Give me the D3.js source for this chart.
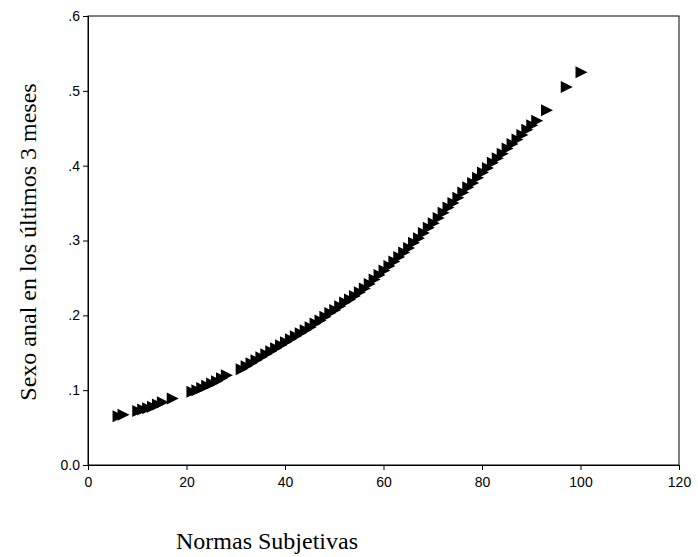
<!DOCTYPE html>
<html><head><meta charset="utf-8">
<script src="https://cdn.jsdelivr.net/npm/d3@7"></script>
<style>body{margin:0;background:#fff}</style>
</head><body>
<script>
const normas = [6,7,10,11,12,13,14,15,17,21,22,23,24,25,26,27,28,31,32,33,34,35,36,37,38,39,40,41,42,43,44,45,46,47,48,49,50,51,52,53,54,55,56,57,58,59,60,61,62,63,64,65,66,67,68,69,70,71,72,73,74,75,76,77,78,79,80,81,82,83,84,85,86,87,88,89,90,91,93,97,100];
const sexoAnal = [.065,.067,.072,.074,.076,.078,.081,.084,.089,.098,.100,.103,.106,.109,.112,.116,.120,.128,.132,.136,.140,.144,.148,.152,.156,.160,.164,.168,.172,.176,.180,.184,.189,.193,.198,.203,.207,.212,.217,.221,.226,.231,.236,.242,.248,.254,.260,.266,.272,.278,.284,.290,.297,.303,.310,.317,.323,.330,.337,.344,.350,.357,.364,.371,.377,.384,.391,.397,.404,.410,.416,.423,.429,.435,.441,.448,.454,.460,.474,.505,.525];
const xTicks = [0,20,40,60,80,100,120];
const yTicks = [0,.1,.2,.3,.4,.5,.6];
const yTickLabels = ["0.0",".1",".2",".3",".4",".5",".6"];

const W=698,H=557;
const m={l:88,r:19,t:16,b:92};
const svg=d3.select("body").append("svg").attr("width",W).attr("height",H);
const x=d3.scaleLinear().domain([0,120]).range([m.l,W-m.r]);
const y=d3.scaleLinear().domain([0,.6]).range([H-m.b,m.t]);

svg.append("rect").attr("x",m.l).attr("y",m.t).attr("width",W-m.r-m.l).attr("height",H-m.b-m.t)
  .attr("fill","none").attr("stroke","#000").attr("stroke-width",1);

const xa=svg.append("g").attr("transform",`translate(0,${H-m.b})`)
  .call(d3.axisBottom(x).tickValues(xTicks).tickSize(5).tickPadding(7));
const ya=svg.append("g").attr("transform",`translate(${m.l},0)`)
  .call(d3.axisLeft(y).tickValues(yTicks).tickFormat((d,i)=>yTickLabels[i]).tickSize(5).tickPadding(3));
[xa,ya].forEach(g=>{
  g.select(".domain").attr("stroke","#000");
  g.selectAll(".tick line").attr("stroke","#000");
  g.selectAll("text").attr("font-family","Arial, 'Liberation Sans', sans-serif").attr("font-size",14).attr("fill","#000");
});

svg.append("g").selectAll("path").data(normas.map((v,i)=>[v,sexoAnal[i]])).join("path")
  .attr("d", "M-5,-6L7,0L-5,6Z")
  .attr("transform",d=>`translate(${x(d[0])},${y(d[1])})`)
  .attr("fill","#000");

svg.append("text").attr("x",267).attr("y",549).attr("text-anchor","middle")
  .attr("font-family","'Liberation Serif','Times New Roman',serif").attr("font-size",24).text("Normas Subjetivas");
svg.append("text").attr("transform","translate(36,242) rotate(-90)").attr("text-anchor","middle")
  .attr("font-family","'Liberation Serif','Times New Roman',serif").attr("font-size",24).text("Sexo anal en los últimos 3 meses");
</script>
</body></html>
